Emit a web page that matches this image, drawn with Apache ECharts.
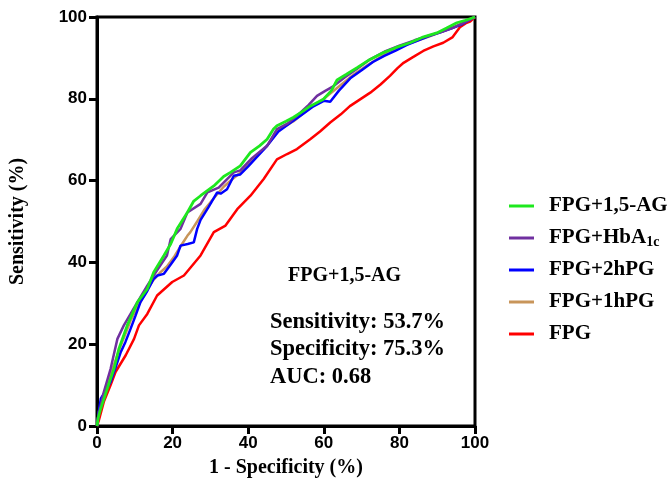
<!DOCTYPE html>
<html>
<head>
<meta charset="utf-8">
<script src="https://cdn.jsdelivr.net/npm/echarts@6/dist/echarts.min.js"></script>
<style>
html,body{margin:0;padding:0;background:#fff;}
#chart{width:670px;height:483px;}
</style>
</head>
<body>
<div id="chart"></div>
<script>
// ---- Data ----
const xTicks = [0, 20, 40, 60, 80, 100];
const yTicks = [0, 20, 40, 60, 80, 100];

const seriesNames = ['FPG+1,5-AG', 'FPG+HbA1c', 'FPG+2hPG', 'FPG+1hPG', 'FPG'];

const fpgX = [0, 0.5, 1.8, 3.6, 4.9, 7.6, 9.8, 11.1, 13.3, 15.9, 19.9, 23, 27.4, 30.9, 34, 37.1, 40.6, 44.1, 47.6, 50.3, 52.9, 56.4, 59, 61.7, 64.5, 66.9, 69.5, 72.3, 75, 77.5, 79.5, 81.1, 83.8, 86.3, 89, 91.6, 94, 96, 97.8, 98.7, 100];
const fpgY = [0, 1.4, 5.9, 10, 13.2, 17.3, 21.3, 24.6, 27.4, 31.9, 35.2, 36.8, 41.7, 47.4, 49, 53, 56.3, 60.4, 65.2, 66.5, 67.7, 70.1, 72, 74.2, 76.2, 78.2, 79.8, 81.5, 83.5, 85.6, 87.5, 88.8, 90.3, 91.7, 92.8, 93.7, 95, 97.5, 98.6, 98.9, 100];

const agX = [0, 0.3, 1, 2.7, 4.5, 5.8, 8, 10.7, 13.3, 15, 17.7, 19.5, 21.2, 23.9, 25.6, 27.4, 30.9, 33.5, 35.3, 37.9, 40.6, 43, 45, 46.7, 47.6, 50, 52, 54.5, 56.4, 59.9, 62, 63.5, 66, 68.8, 72, 75.8, 79, 82.8, 86, 89.9, 92.5, 95.2, 97.5, 100];
const agY = [0, 2, 4.3, 9.1, 14, 18.9, 24.6, 30.3, 33.5, 37.6, 41.7, 44.5, 48.2, 52.2, 55, 56.3, 58.7, 61, 62, 63.6, 66.9, 68.5, 70.1, 72.6, 73.4, 74.5, 75.5, 77, 78.2, 79.9, 82, 84.6, 86, 87.6, 89.5, 91.3, 92.5, 93.7, 95, 96.1, 97.3, 98.6, 99.2, 100];

const hbX = [0, 0.5, 1.8, 3.6, 5.4, 7.1, 10.7, 13.3, 15.5, 18.5, 19.5, 22.1, 23.9, 27.4, 29.2, 32.2, 36.2, 37.9, 41, 45, 47.6, 50.5, 53.8, 56, 58.2, 60.5, 62.6, 65.5, 69, 72, 76, 80, 84, 88, 91, 94, 96.5, 98.5, 100];
const hbY = [0, 3, 8.3, 14, 21.3, 24.6, 30.3, 34.3, 37.5, 41.7, 45.7, 48.2, 52.2, 54.3, 57.1, 58.3, 62, 62.5, 65.5, 68.5, 72.6, 74, 76.6, 78.5, 80.7, 82, 83.1, 85.2, 87.5, 89.5, 91.5, 93, 94.3, 95.5, 96.3, 97.3, 98.3, 99.3, 100];

const h2X = [0, 0.4, 1, 2.2, 3.6, 5, 6.3, 7.5, 8.9, 10.2, 11.5, 13.3, 15, 16, 17.7, 19.5, 21.2, 22.1, 24, 25.6, 26.5, 27.4, 29.5, 31.8, 32.7, 34.4, 36.2, 37.9, 40, 42.5, 45, 48, 51, 54, 57, 60, 61.7, 64, 67, 70, 73, 76, 79, 82, 85, 88, 91, 94, 96.5, 98.5, 100];
const h2Y = [0, 3, 6.7, 8.5, 10.8, 14.5, 18.1, 20.5, 23.8, 27, 30.3, 33, 36, 36.8, 37.2, 39.5, 41.7, 44.1, 44.5, 44.9, 48.2, 50.4, 53.5, 57.1, 56.8, 57.9, 61.2, 61.5, 63.5, 66, 68.5, 72, 74, 76, 78, 79.5, 79.3, 82, 85, 87, 89, 90.5, 91.8, 93.2, 94.3, 95.4, 96.3, 97.3, 98.2, 99.3, 100];

const h1X = [0, 0.5, 1.5, 3, 4.5, 6, 7.5, 9, 11, 13, 15, 16.8, 18.5, 20.5, 22.5, 23.9, 24.7, 26.5, 28.5, 31, 33.5, 36, 38, 41, 45, 48, 52, 56, 60, 64, 68, 72, 76, 80, 84, 88, 92, 95, 97.5, 100];
const h1Y = [0, 3.5, 7, 11, 15, 19, 22.5, 26, 29.5, 33, 35.8, 37.6, 39, 41.5, 44.5, 46.5, 47.4, 50, 53, 55.8, 58.5, 60.5, 62, 65, 68.5, 72.3, 74.5, 77.5, 80, 83, 86, 88.5, 90.8, 92.6, 94, 95.3, 96.7, 97.8, 99, 100];

const annotTitle = 'FPG+1,5-AG';
const annotLines = ['Sensitivity: 53.7%', 'Specificity: 75.3%', 'AUC: 0.68'];

function pairs(xs, ys) { return xs.map((x, i) => [x, ys[i]]); }

const chart = echarts.init(document.getElementById('chart'), null, {renderer: 'canvas'});

const serif = '"Liberation Serif", "Times New Roman", serif';
const sans = '"Liberation Sans", Arial, sans-serif';

function mk(name, xs, ys, color, w) {
  return {
    name: name, type: 'line', data: pairs(xs, ys), showSymbol: false, symbol: 'none',
    lineStyle: {color: color, width: w}, itemStyle: {color: color},
    animation: false, silent: true
  };
}

const option = {
  animation: false,
  backgroundColor: '#fff',
  grid: {left: 96, right: 195, top: 17, bottom: 55, show: true, borderColor: '#000', borderWidth: 3, backgroundColor: 'transparent'},
  xAxis: {
    type: 'value', min: 0, max: 100, interval: 20,
    name: '1 - Specificity (%)', nameLocation: 'middle', nameGap: 32,
    nameTextStyle: {fontFamily: serif, fontWeight: 'bold', fontSize: 20, color: '#000'},
    axisLine: {show: true, lineStyle: {color: '#000', width: 3}},
    axisTick: {show: true, length: 8, lineStyle: {color: '#000', width: 3}},
    axisLabel: {fontFamily: sans, fontWeight: 'bold', fontSize: 17, color: '#000', margin: 9,
      formatter: v => xTicks.indexOf(v) >= 0 ? String(v) : ''},
    splitLine: {show: false}
  },
  yAxis: {
    type: 'value', min: 0, max: 100, interval: 20,
    name: 'Sensitivity (%)', nameLocation: 'middle', nameGap: 69, nameRotate: 90,
    nameTextStyle: {fontFamily: serif, fontWeight: 'bold', fontSize: 20, color: '#000'},
    axisLine: {show: true, lineStyle: {color: '#000', width: 3}},
    axisTick: {show: true, length: 8, lineStyle: {color: '#000', width: 3}},
    axisLabel: {fontFamily: sans, fontWeight: 'bold', fontSize: 17, color: '#000', margin: 10,
      formatter: v => yTicks.indexOf(v) >= 0 ? String(v) : ''},
    splitLine: {show: false}
  },
  legend: {
    orient: 'vertical', left: 509, top: 195, padding: 0, itemWidth: 25, itemHeight: 3, itemGap: 10,
    icon: 'rect',
    data: seriesNames,
    formatter: function (n) { return n === 'FPG+HbA1c' ? '{m|FPG+HbA}{s|1c}' : '{m|' + n + '}'; },
    textStyle: {
      fontFamily: serif, fontWeight: 'bold', fontSize: 21, color: '#000', lineHeight: 22,
      padding: [0, 0, 0, 10],
      rich: {
        m: {fontFamily: serif, fontWeight: 'bold', fontSize: 21, color: '#000', lineHeight: 22},
        s: {fontFamily: serif, fontWeight: 'bold', fontSize: 14, color: '#000', lineHeight: 8, verticalAlign: 'bottom'}
      }
    }
  },
  graphic: [
    {type: 'text', left: 288, top: 266, silent: true,
      style: {text: annotTitle, font: 'bold 20px ' + serif, fill: '#000'}},
    {type: 'text', left: 270, top: 308, silent: true,
      style: {text: annotLines.join('\n'), font: 'bold 22.5px ' + serif, fill: '#000', lineHeight: 27.5}}
  ],
  series: [
    mk('FPG', fpgX, fpgY, '#ff0000', 2.5),
    mk('FPG+1hPG', h1X, h1Y, '#c8955a', 2.5),
    mk('FPG+2hPG', h2X, h2Y, '#0000ff', 2.5),
    mk('FPG+HbA1c', hbX, hbY, '#7030a0', 2.5),
    mk('FPG+1,5-AG', agX, agY, '#1ee81e', 2.8)
  ]
};
chart.setOption(option);
</script>
</body>
</html>
